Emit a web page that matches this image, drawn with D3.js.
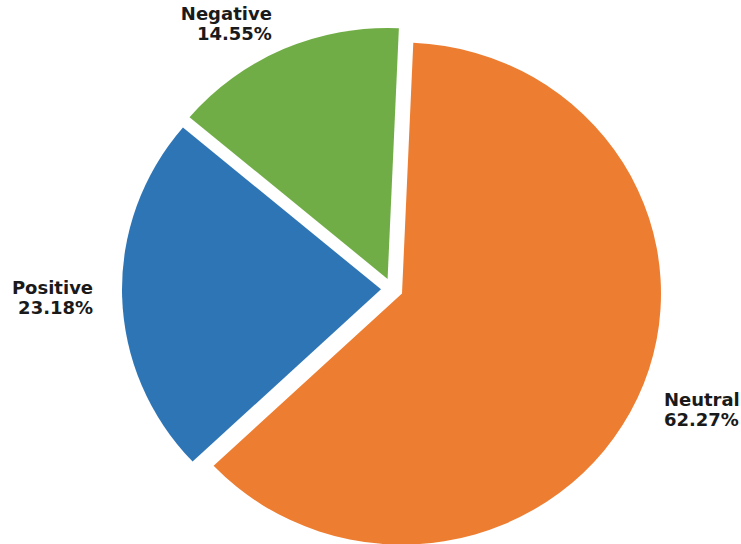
<!DOCTYPE html>
<html>
<head>
<meta charset="utf-8">
<script src="https://cdn.jsdelivr.net/npm/d3@7"></script>
<style>
  html, body { margin: 0; padding: 0; background: #ffffff; }
  svg { display: block; }
</style>
</head>
<body>
<svg id="chart" width="741" height="544"></svg>
<script>
const categories = ["Neutral", "Positive", "Negative"];
const values = [62.27, 23.18, 14.55];
const percentLabels = ["62.27%", "23.18%", "14.55%"];
const colors = ["#ED7D31", "#2E75B6", "#70AD47"];

const W = 741, H = 544;
const cx = 392, cy = 289;
const R = 255;
const sx = 259 / R, sy = 251 / R;
const explode = 11;
const rotation = 2.5 * Math.PI / 180;
const labelFactor = 1.112;

const svg = d3.select("#chart");
svg.append("rect").attr("width", W).attr("height", H).attr("fill", "#ffffff");

const pie = d3.pie().sort(null).value(d => d.value)
  .startAngle(rotation).endAngle(rotation + 2 * Math.PI);
const data = pie(categories.map((c, i) => ({ name: c, value: values[i], pct: percentLabels[i], color: colors[i] })));
const arc = d3.arc().innerRadius(0).outerRadius(R);

const slices = svg.append("g");
data.forEach(d => {
  const mid = (d.startAngle + d.endAngle) / 2;
  const ox = cx + explode * Math.sin(mid);
  const oy = cy - explode * Math.cos(mid);
  slices.append("path")
    .attr("d", arc(d))
    .attr("fill", d.data.color)
    .attr("transform", `translate(${ox},${oy}) scale(${sx},${sy})`);

  const lx = ox + labelFactor * R * sx * Math.sin(mid);
  const ly = oy - labelFactor * R * sy * Math.cos(mid);
  const anchor = Math.sin(mid) >= 0 ? "start" : "end";
  const t = svg.append("text")
    .attr("font-family", "DejaVu Sans, sans-serif")
    .attr("font-weight", "bold")
    .attr("font-size", 18)
    .attr("fill", "#1a1a1a")
    .attr("text-anchor", anchor);
  t.append("tspan").attr("x", lx).attr("y", ly - 10).attr("dominant-baseline", "central").text(d.data.name);
  t.append("tspan").attr("x", lx).attr("y", ly + 10).attr("dominant-baseline", "central").text(d.data.pct);
});
</script>
</body>
</html>
